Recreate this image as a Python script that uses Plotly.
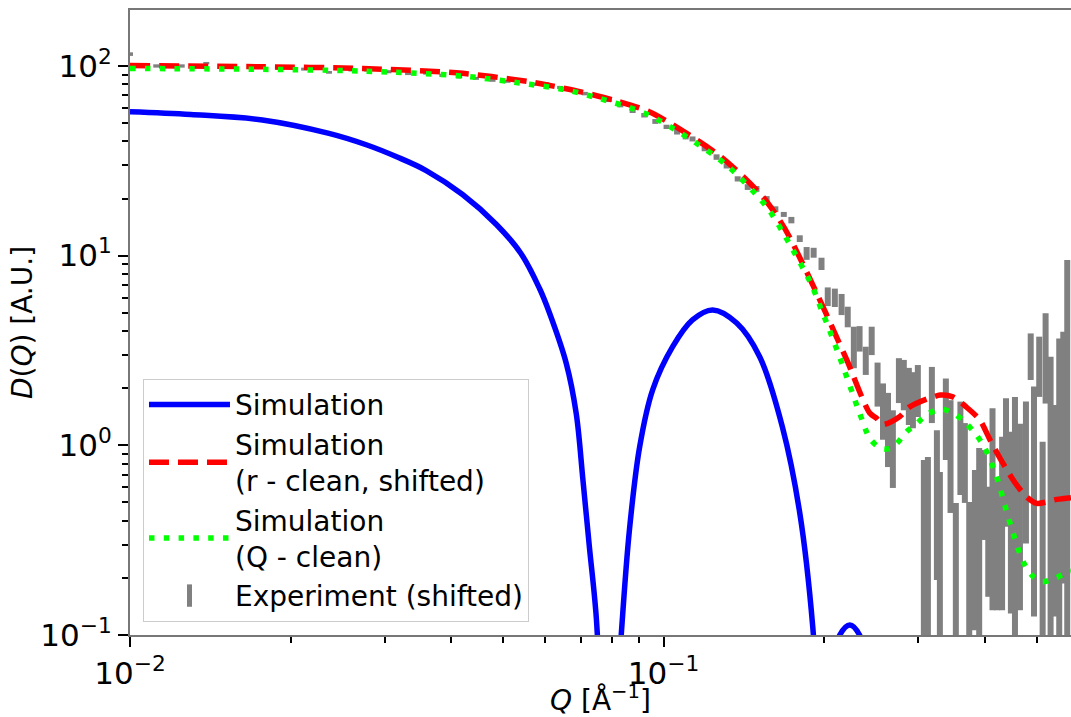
import plotly.graph_objects as go

# ---------------- data ----------------
q_sim = [0.0100, 0.0130, 0.0177, 0.0236, 0.0278, 0.0316, 0.0359, 0.0420, 0.0486, 0.0540,
         0.0585, 0.0611, 0.0657, 0.0686, 0.0706, 0.0726, 0.0747, 0.0790,
         0.0833, 0.0863, 0.0902, 0.0954, 0.1040, 0.1133, 0.1236, 0.1371, 0.1514, 0.1670,
         0.1800, 0.1904, 0.2000, 0.2050, 0.2139, 0.2234, 0.2330, 0.2400, 0.2470, 0.2520]
d_sim = [57.4, 55.5, 51.9, 44.1, 38.3, 33.2, 28.1, 21.0, 14.6, 10.3,
         6.75, 5.0, 2.71, 1.47, 0.66, 0.292, 0.13, 0.01,
         0.1, 0.358, 0.983, 1.96, 3.31, 4.58, 5.17, 4.41, 2.93, 1.25,
         0.44, 0.11, 0.01, 0.06, 0.1, 0.113, 0.1, 0.07, 0.03, 0.01]

q_rclean = [0.0100, 0.0177, 0.0273, 0.0420, 0.0561, 0.0611, 0.0700, 0.0815, 0.0940, 0.1058,
            0.1290, 0.1535, 0.1650, 0.1723, 0.1936, 0.2110, 0.2205, 0.2434, 0.2506, 0.2578,
            0.2773, 0.2888, 0.3300, 0.3484, 0.3695, 0.3915, 0.4089, 0.4330, 0.4567, 0.4790,
            0.5003, 0.5455, 0.5800]
d_rclean = [100.5, 99.0, 97.0, 91.4, 82.5, 79.0, 73.0, 65.5, 57.4, 47.6,
            32.7, 20.4, 15.4, 12.5, 6.35, 3.72, 2.82, 1.48, 1.39, 1.29,
            1.42, 1.59, 1.84, 1.80, 1.59, 1.36, 1.07, 0.80, 0.63, 0.535,
            0.494, 0.519, 0.53]

q_qclean = [0.0100, 0.0177, 0.0273, 0.0420, 0.0561, 0.0647, 0.0736, 0.0940, 0.1300, 0.1560,
            0.1670, 0.1723, 0.1895, 0.1987, 0.2023, 0.2138, 0.2332, 0.2434, 0.2545, 0.2650,
            0.2733, 0.2853, 0.2977, 0.3132, 0.3325, 0.3516, 0.3695, 0.3861, 0.4000, 0.4210,
            0.4360, 0.4520, 0.4716, 0.4897, 0.5115, 0.5416, 0.5737, 0.5800]
d_qclean = [97.0, 96.0, 94.0, 88.5, 80.0, 75.4, 69.0, 55.0, 30.7, 18.1,
            13.4, 11.5, 7.0, 4.98, 4.4, 2.92, 1.47, 1.09, 0.968, 0.96,
            1.02, 1.18, 1.30, 1.47, 1.55, 1.46, 1.30, 1.13, 0.968, 0.683,
            0.484, 0.344, 0.245, 0.207, 0.191, 0.199, 0.216, 0.218]

q_exp = [0.0100, 0.0112, 0.0125, 0.0139, 0.0155, 0.0172, 0.0190, 0.0212, 0.0236, 0.0260,
         0.0278, 0.0305, 0.0332, 0.0359, 0.0385, 0.0414, 0.0445, 0.0478, 0.0510, 0.0536,
         0.0568, 0.0603, 0.0640, 0.0676, 0.0712, 0.0749, 0.0790, 0.0830, 0.0875, 0.0920,
         0.0965, 0.1013, 0.1060, 0.1100, 0.1133, 0.1194, 0.1257, 0.1313, 0.1377, 0.1438,
         0.1493, 0.1560, 0.1620, 0.1680, 0.1736, 0.1800, 0.1854, 0.1911, 0.1977, 0.2031,
         0.2094, 0.2156, 0.2214, 0.2273, 0.2330, 0.2393, 0.2455, 0.2518, 0.2578, 0.2634,
         0.2690, 0.2761, 0.2820, 0.2882, 0.2933, 0.2996, 0.3075, 0.3129, 0.3183, 0.3253,
         0.3295, 0.3381, 0.3450, 0.3530, 0.3600, 0.3670, 0.3740, 0.3833, 0.3904, 0.3985,
         0.4060, 0.4135, 0.4219, 0.4310, 0.4383, 0.4477, 0.4556, 0.4655, 0.4777, 0.4876,
         0.4946, 0.5059, 0.5134, 0.5200, 0.5313, 0.5416, 0.5515, 0.5612, 0.5709]
lo_exp = [113, 98, 98, 102, 97, 96.5, 95.5, 94.5, 91, 93.5,
          93.5, 91.5, 89.5, 90, 87.5, 86, 84.5, 82.5, 81.5, 82,
          78.5, 78.5, 75.5, 73, 70, 68, 64.5, 60.5, 56.5, 53.5,
          49.5, 46.5, 43.5, 41, 40, 35.5, 32, 28.8, 24.6, 22.2,
          21.7, 19.2, 17.0, 16.0, 14.8, 11.8, 9.5, 9.75, 8.4, 5.42,
          5.36, 4.86, 4.19, 2.55, 3.12, 2.35, 2.99, 1.6, 1.07, 0.768,
          0.596, 1.67, 1.53, 1.28, 1.23, 1.41, 0.05, 0.05, 1.31, 0.195,
          0.05, 0.837, 0.44, 0.05, 0.547, 0.497, 0.05, 0.106, 0.05, 0.317,
          0.159, 0.135, 0.135, 0.135, 0.372, 0.13, 0.05, 0.135, 0.304, 2.21,
          0.125, 1.80, 0.05, 1.66, 0.05, 0.125, 0.05, 0.187, 0.05]
hi_exp = [118, 102, 102, 105, 101, 100, 99, 98, 94, 97,
          97, 95, 93, 93, 91, 89.5, 87.5, 85.5, 84.5, 85,
          81.5, 82, 78.5, 76, 73, 71, 67.5, 63.5, 59.5, 56.5,
          52.5, 49, 46.5, 44, 42.5, 37.5, 34.2, 30.6, 26.2, 23.8,
          23.3, 20.6, 18.2, 17.0, 16.0, 12.8, 11.1, 11.0, 9.75, 6.8,
          6.7, 6.28, 5.38, 4.22, 4.25, 3.31, 4.22, 2.73, 2.12, 1.89,
          1.53, 2.88, 2.82, 2.56, 2.43, 2.65, 0.837, 0.868, 2.59, 1.20,
          0.723, 2.25, 1.73, 0.497, 1.70, 1.31, 0.503, 0.741, 0.968, 0.945,
          0.605, 1.57, 0.656, 1.11, 1.77, 1.18, 1.80, 1.30, 1.70, 3.89,
          2.04, 3.74, 1.045, 4.97, 2.93, 1.63, 3.66, 3.97, 9.48]

x_tick_vals = [0.01, 0.1]
x_tick_text = ["10<sup>\u22122</sup>", "10<sup>\u22121</sup>"]
x_minor_vals = [0.02, 0.03, 0.04, 0.05, 0.06, 0.07, 0.08, 0.09, 0.2, 0.3, 0.4, 0.5]
y_tick_vals = [0.1, 1, 10, 100]
y_tick_text = ["10<sup>\u22121</sup>", "10<sup>0</sup>", "10<sup>1</sup>", "10<sup>2</sup>"]
y_minor_vals = [0.2, 0.3, 0.4, 0.5, 0.6, 0.7, 0.8, 0.9,
                2, 3, 4, 5, 6, 7, 8, 9, 20, 30, 40, 50, 60, 70, 80, 90]

# ---------------- figure ----------------
FONT = "DejaVu Sans"
GRAY = "#808080"

# experimental error bars as vertical segments
seg_x, seg_y = [], []
for q, lo, hi in zip(q_exp, lo_exp, hi_exp):
    seg_x += [q, q, None]
    seg_y += [lo, hi, None]

fig = go.Figure()
fig.add_trace(go.Scatter(x=seg_x, y=seg_y, mode="lines", line=dict(color=GRAY, width=6),
                         showlegend=False, hoverinfo="skip"))
fig.add_trace(go.Scatter(x=q_sim, y=d_sim, mode="lines", name="Simulation",
                         line=dict(color="#0000ff", width=5.5, shape="spline", smoothing=1.0)))
fig.add_trace(go.Scatter(x=q_rclean, y=d_rclean, mode="lines",
                         name="Simulation<br>(r - clean, shifted)",
                         line=dict(color="#ff0000", width=5.5, dash="20px,9px",
                                   shape="spline", smoothing=0.8)))
fig.add_trace(go.Scatter(x=q_qclean, y=d_qclean, mode="lines",
                         name="Simulation<br>(Q - clean)",
                         line=dict(color="#00ff00", width=5.5, dash="5.5px,9.3px",
                                   shape="spline", smoothing=0.8)))
fig.add_trace(go.Scatter(x=[None], y=[None], mode="markers", name="Experiment (shifted)",
                         marker=dict(symbol="line-ns", size=16, color=GRAY,
                                     line=dict(width=6, color=GRAY))))

axis_common = dict(
    type="log", showgrid=False, zeroline=False, automargin=False,
    showline=True, linecolor="#777777", linewidth=2,
    ticks="outside", ticklen=10, tickwidth=2, tickcolor="black",
    tickfont=dict(family=FONT, size=31, color="black"),
    tickmode="array",
)

fig.update_xaxes(**axis_common, range=[-2, -0.2364], mirror=True,
                 tickvals=x_tick_vals, ticktext=x_tick_text,
                 minor=dict(tickmode="array", tickvals=x_minor_vals, ticks="outside",
                            ticklen=6, tickwidth=1.5, tickcolor="black"),
                 title=dict(text="<i>Q</i> [Å<sup>\u22121</sup>]",
                            font=dict(family=FONT, size=28, color="black"), standoff=2))
fig.update_yaxes(**axis_common, range=[-1, 2.295],
                 tickvals=y_tick_vals, ticktext=y_tick_text,
                 minor=dict(tickmode="array", tickvals=y_minor_vals, ticks="outside",
                            ticklen=6, tickwidth=1.5, tickcolor="black"),
                 title=dict(text="<i>D</i>(<i>Q</i>) [A.U.]",
                            font=dict(family=FONT, size=28, color="black"), standoff=0))

fig.update_layout(
    width=1071, height=717,
    margin=dict(l=130, r=0, t=10, b=82),
    plot_bgcolor="white", paper_bgcolor="white",
    font=dict(family=FONT, size=28, color="black"),
    legend=dict(x=0.0138, y=0.021, xanchor="left", yanchor="bottom",
                bgcolor="rgba(255,255,255,0.85)", bordercolor="#cccccc", borderwidth=1,
                font=dict(family=FONT, size=28, color="black"),
                itemwidth=81, tracegroupgap=0),
)

fig.write_html("out.html", config={"displayModeBar": False},
               post_script="document.body.style.margin='0px';document.body.style.padding='0px';")
